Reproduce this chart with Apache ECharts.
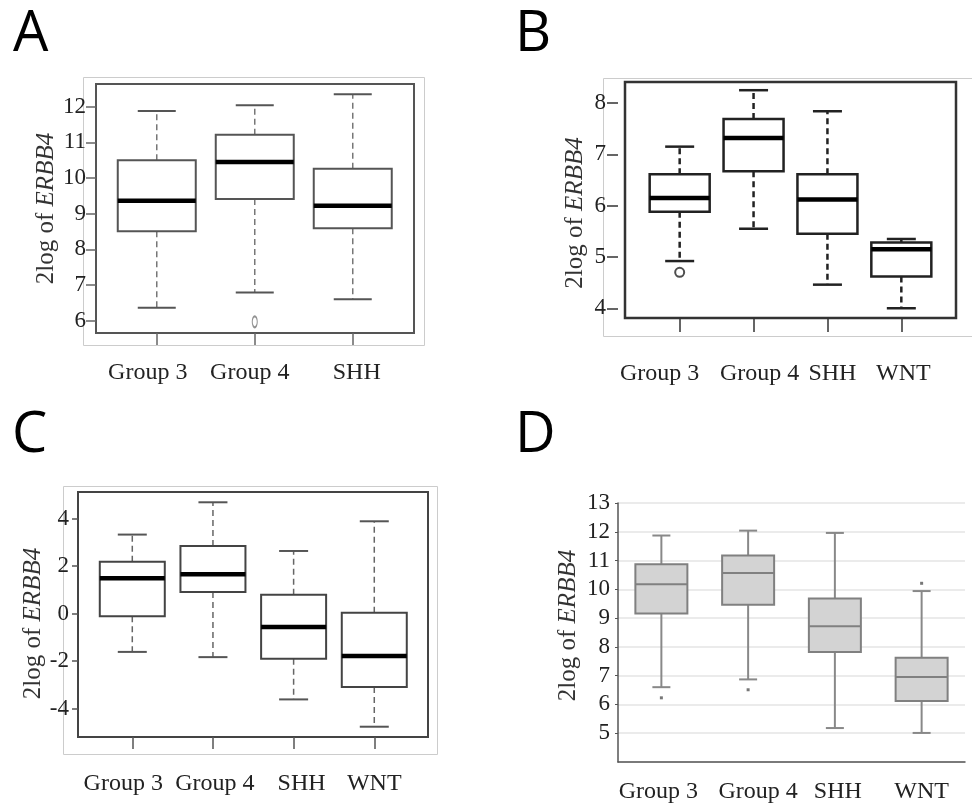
<!DOCTYPE html>
<html>
<head>
<meta charset="utf-8">
<script src="https://cdn.jsdelivr.net/npm/echarts@6/dist/echarts.min.js"></script>
<style>
html,body{margin:0;padding:0;background:#fff;}
#chart{width:972px;height:804px;}
</style>
</head>
<body>
<div id="chart"></div>
<script>
// ---------- DATA ----------
const categoriesA = ['Group 3', 'Group 4', 'SHH'];
const categoriesB = ['Group 3', 'Group 4', 'SHH', 'WNT'];
const categoriesC = ['Group 3', 'Group 4', 'SHH', 'WNT'];
const categoriesD = ['Group 3', 'Group 4', 'SHH', 'WNT'];

// [min, Q1, median, Q3, max]
const statsA = [
  [6.36, 8.51, 9.36, 10.50, 11.88],
  [6.79, 9.41, 10.45, 11.21, 12.04],
  [6.60, 8.59, 9.22, 10.26, 12.35]
];
const statsB = [
  [4.92, 5.88, 6.15, 6.61, 7.15],
  [5.55, 6.67, 7.32, 7.69, 8.25],
  [4.46, 5.45, 6.12, 6.61, 7.84],
  [4.00, 4.62, 5.15, 5.28, 5.35]
];
const statsC = [
  [-1.61, -0.11, 1.49, 2.19, 3.33],
  [-1.83, 0.91, 1.66, 2.85, 4.69],
  [-3.61, -1.90, -0.56, 0.80, 2.64],
  [-4.76, -3.09, -1.78, 0.04, 3.89]
];
const statsD = [
  [6.60, 9.16, 10.18, 10.87, 11.87],
  [6.87, 9.46, 10.57, 11.18, 12.04],
  [5.18, 7.82, 8.72, 9.68, 11.96],
  [5.01, 6.12, 6.95, 7.62, 9.94]
];

// outliers: [category, value]
const outliersA = [['Group 4', 5.97]];
const outliersB = [['Group 3', 4.70]];
const outliersD = [['Group 3', 6.23], ['Group 4', 6.51], ['WNT', 10.21]];

const yTicksA = [6, 7, 8, 9, 10, 11, 12];
const yTicksB = [4, 5, 6, 7, 8];
const yTicksC = [-4, -2, 0, 2, 4];
const yTicksD = [5, 6, 7, 8, 9, 10, 11, 12, 13];

const panelLetters = ['A', 'B', 'C', 'D'];
const yTitlePlain = '2log of ';
const yTitleItalic = 'ERBB4';

// ---------- LAYOUT (label nudges in px, per category) ----------
const labelShiftA = [-9, -5, 4];
const labelShiftB = [-20, 6, 5, 2];
const labelShiftC = [-9, 2, 8, 0];
const labelShiftD = [-3, 10, 3, 0];

// ---------- HELPERS ----------
const SERIF = 'Liberation Serif';

function boxData(stats) {
  return stats.map((s, i) => [i + 1].concat(s));
}
function outlierData(outs, cats) {
  return outs.map(o => [cats.indexOf(o[0]) + 1, o[1]]);
}
function positions(cats) { return cats.map((c, i) => i + 1); }

function boxRenderer(st) {
  return function (params, api) {
    const x = api.value(0);
    const c = v => api.coord([x, v]);
    const pMin = c(api.value(1)), pQ1 = c(api.value(2)), pMed = c(api.value(3)),
          pQ3 = c(api.value(4)), pMax = c(api.value(5));
    const cx = pMin[0];
    const hb = st.boxW / 2, hc = st.capW / 2;
    const wStyle = { stroke: st.whiskerColor, lineWidth: st.whiskerWidth, lineDash: st.whiskerDash };
    const cStyle = { stroke: st.capColor, lineWidth: st.capWidth };
    return {
      type: 'group',
      children: [
        { type: 'line', shape: { x1: cx, y1: pQ3[1], x2: cx, y2: pMax[1] }, style: wStyle },
        { type: 'line', shape: { x1: cx, y1: pQ1[1], x2: cx, y2: pMin[1] }, style: wStyle },
        { type: 'line', shape: { x1: cx - hc, y1: pMax[1], x2: cx + hc, y2: pMax[1] }, style: cStyle },
        { type: 'line', shape: { x1: cx - hc, y1: pMin[1], x2: cx + hc, y2: pMin[1] }, style: cStyle },
        { type: 'rect', shape: { x: cx - hb, y: pQ3[1], width: st.boxW, height: pQ1[1] - pQ3[1] },
          style: { fill: st.boxFill, stroke: st.boxStroke, lineWidth: st.boxWidth } },
        { type: 'line', shape: { x1: cx - hb, y1: pMed[1], x2: cx + hb, y2: pMed[1] },
          style: { stroke: st.medColor, lineWidth: st.medWidth } }
      ]
    };
  };
}

function yName(pad) {
  return {
    name: '{a|' + yTitlePlain + '}{b|' + yTitleItalic + '}',
    nameLocation: 'middle',
    nameRotate: 90,
    nameTextStyle: {
      padding: pad || 0,
      rich: {
        a: { fontFamily: SERIF, fontSize: 25, color: '#333' },
        b: { fontFamily: SERIF, fontSize: 25, color: '#333', fontStyle: 'italic' }
      }
    }
  };
}

// ---------- OPTION ----------
const grids = [
  { left: 96, top: 84, width: 318, height: 249, show: true, borderColor: '#555', borderWidth: 2 },
  { left: 625, top: 82, width: 331, height: 236, show: true, borderColor: '#333', borderWidth: 2.5 },
  { left: 78, top: 492, width: 350, height: 245, show: true, borderColor: '#444', borderWidth: 2 },
  { left: 618, top: 503, width: 347, height: 261 }
];

function xAx(gi, cats, shifts, min, max, tickLen, margin, tickColor, showTick) {
  const pos = positions(cats);
  const rich = {};
  shifts.forEach((s, i) => {
    rich['c' + i] = {
      fontFamily: SERIF, fontSize: 24, color: '#222',
      padding: s >= 0 ? [0, 0, 0, 2 * s] : [0, -2 * s, 0, 0]
    };
  });
  return {
    type: 'value', gridIndex: gi, min: min, max: max,
    axisLine: { show: gi === 3, onZero: false, lineStyle: { color: '#555', width: 1.5 } },
    splitLine: { show: false },
    axisTick: { show: showTick, customValues: pos, length: tickLen, lineStyle: { color: tickColor, width: 1.5 } },
    axisLabel: {
      customValues: pos, margin: margin, showMinLabel: true, showMaxLabel: true,
      formatter: v => {
        const i = Math.round(v) - 1;
        return cats[i] ? '{c' + i + '|' + cats[i] + '}' : '';
      },
      rich: rich,
      fontFamily: SERIF, fontSize: 24, color: '#222'
    }
  };
}

const xAxes = [
  xAx(0, categoriesA, labelShiftA, 0.38, 3.625, 12, 28, '#666', true),
  xAx(1, categoriesB, labelShiftB, 0.26, 4.74, 14, 44, '#333', true),
  xAx(2, categoriesC, labelShiftC, 0.327, 4.666, 12, 35, '#555', true),
  xAx(3, categoriesD, labelShiftD, 0.5, 4.5, 0, 18, '#555', false)
];

const yAxes = [
  Object.assign({
    type: 'value', gridIndex: 0, min: 5.655, max: 12.636, nameGap: 36,
    axisLine: { show: false, onZero: false }, splitLine: { show: false },
    axisTick: { customValues: yTicksA, length: 10, lineStyle: { color: '#666', width: 1.5 } },
    axisLabel: { customValues: yTicksA, margin: 10, fontFamily: SERIF, fontSize: 23, color: '#222' }
  }, yName()),
  Object.assign({
    type: 'value', gridIndex: 1, min: 3.81, max: 8.41, offset: 7, nameGap: 30,
    axisLine: { show: false, onZero: false }, splitLine: { show: false },
    axisTick: { customValues: yTicksB, length: 11, lineStyle: { color: '#333', width: 1.5 } },
    axisLabel: { customValues: yTicksB, margin: 12, fontFamily: SERIF, fontSize: 23, color: '#222' }
  }, yName([0, 26, 0, 0])),
  Object.assign({
    type: 'value', gridIndex: 2, min: -5.193, max: 5.123, nameGap: 31,
    axisLine: { show: false, onZero: false }, splitLine: { show: false },
    axisTick: { customValues: yTicksC, length: 6, lineStyle: { color: '#555', width: 1.5 } },
    axisLabel: { customValues: yTicksC, margin: 9, fontFamily: SERIF, fontSize: 23, color: '#222' }
  }, yName([0, 18, 0, 0])),
  Object.assign({
    type: 'value', gridIndex: 3, min: 4, max: 13, interval: 1, nameGap: 37,
    axisLine: { show: true, onZero: false, lineStyle: { color: '#555', width: 1.5 } },
    splitLine: { show: true, lineStyle: { color: '#e4e4e4', width: 1.5 } },
    axisTick: { show: true, length: 3, lineStyle: { color: '#555' } },
    axisLabel: { showMinLabel: false, margin: 8, fontFamily: SERIF, fontSize: 23, color: '#222' }
  }, yName([0, 0, 0, 14]))
];

const styleA = { boxW: 78, capW: 38, whiskerColor: '#777', whiskerWidth: 1.5, whiskerDash: [6, 4],
  capColor: '#555', capWidth: 2, boxFill: 'rgba(0,0,0,0)', boxStroke: '#555', boxWidth: 2,
  medColor: '#000', medWidth: 4.5 };
const styleB = { boxW: 60, capW: 29, whiskerColor: '#222', whiskerWidth: 2.5, whiskerDash: [6, 4],
  capColor: '#222', capWidth: 2.5, boxFill: 'rgba(0,0,0,0)', boxStroke: '#222', boxWidth: 2.5,
  medColor: '#000', medWidth: 4.5 };
const styleC = { boxW: 65, capW: 29, whiskerColor: '#666', whiskerWidth: 1.5, whiskerDash: [6, 4],
  capColor: '#555', capWidth: 2, boxFill: 'rgba(0,0,0,0)', boxStroke: '#444', boxWidth: 2,
  medColor: '#000', medWidth: 4.5 };
const styleD = { boxW: 52, capW: 18, whiskerColor: '#888', whiskerWidth: 2, whiskerDash: null,
  capColor: '#888', capWidth: 2, boxFill: '#d3d3d3', boxStroke: '#808080', boxWidth: 2,
  medColor: '#808080', medWidth: 2 };

function boxSeries(gi, stats, st) {
  return {
    type: 'custom', xAxisIndex: gi, yAxisIndex: gi,
    renderItem: boxRenderer(st),
    encode: { x: 0, y: [1, 2, 3, 4, 5] },
    data: boxData(stats), z: 3, silent: true
  };
}

const series = [
  boxSeries(0, statsA, styleA),
  boxSeries(1, statsB, styleB),
  boxSeries(2, statsC, styleC),
  boxSeries(3, statsD, styleD),
  { type: 'scatter', xAxisIndex: 0, yAxisIndex: 0, data: outlierData(outliersA, categoriesA),
    symbol: 'circle', symbolSize: [5, 11], itemStyle: { color: '#fff', borderColor: '#777', borderWidth: 1.5 }, z: 4 },
  { type: 'scatter', xAxisIndex: 1, yAxisIndex: 1, data: outlierData(outliersB, categoriesB),
    symbol: 'circle', symbolSize: 9, itemStyle: { color: '#fff', borderColor: '#222', borderWidth: 2 }, z: 4 },
  { type: 'scatter', xAxisIndex: 3, yAxisIndex: 3, data: outlierData(outliersD, categoriesD),
    symbol: 'rect', symbolSize: 3, itemStyle: { color: '#555' }, z: 4 }
];

const letterPos = [[13, 35], [515, 35], [12, 436], [515, 436]];
const graphic = panelLetters.map((L, i) => ({
  type: 'text', x: letterPos[i][0], y: letterPos[i][1], z: 10,
  style: { text: L, font: '56px "Open Sans"', fill: '#000', textAlign: 'left', textVerticalAlign: 'middle' }
})).concat([
  { type: 'rect', shape: { x: 83.5, y: 77.5, width: 341, height: 268 }, style: { fill: 'none', stroke: '#ccc', lineWidth: 1 }, z: -1 },
  { type: 'rect', shape: { x: 603.5, y: 78.5, width: 380, height: 258 }, style: { fill: 'none', stroke: '#ccc', lineWidth: 1 }, z: -1 },
  { type: 'rect', shape: { x: 63.5, y: 486.5, width: 374, height: 268 }, style: { fill: 'none', stroke: '#ccc', lineWidth: 1 }, z: -1 }
]);

const chart = echarts.init(document.getElementById('chart'), null, { renderer: 'canvas' });
chart.setOption({
  animation: false,
  backgroundColor: '#fff',
  grid: grids,
  xAxis: xAxes,
  yAxis: yAxes,
  series: series,
  graphic: graphic
});
</script>
</body>
</html>
